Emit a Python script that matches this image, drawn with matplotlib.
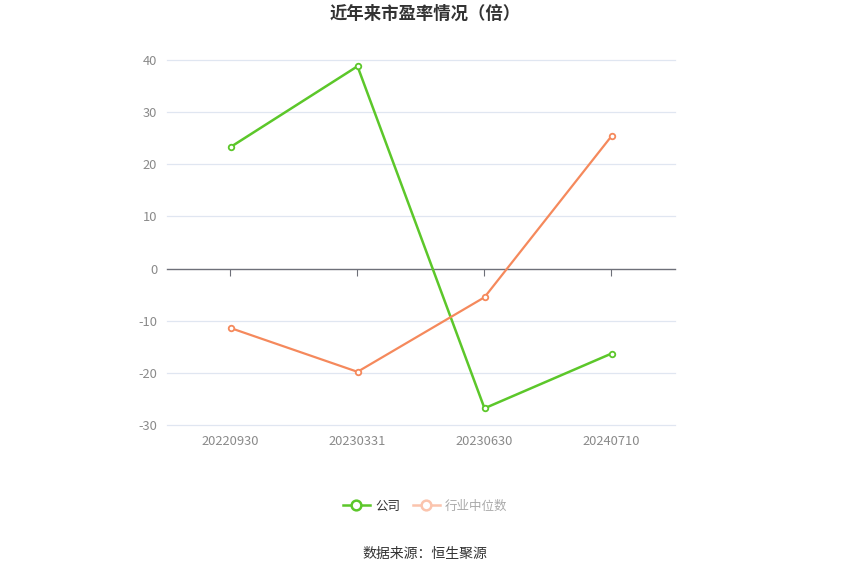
import matplotlib
matplotlib.use("Agg")
import matplotlib.pyplot as plt
from matplotlib.lines import Line2D

plt.rcParams["font.family"] = ["Noto Sans CJK SC", "DejaVu Sans"]

# Data
categories = ["20220930", "20230331", "20230630", "20240710"]
company_pe = [23.3, 38.8, -26.8, -16.3]
industry_pe = [-11.4, -19.8, -5.5, 25.4]
y_ticks = [-30, -20, -10, 0, 10, 20, 30, 40]

GREEN = "#5cc72a"
ORANGE = "#f5895c"
GRID = "#e0e6f1"
AXIS = "#6e7079"
LABEL = "#8a8a8a"

fig = plt.figure(figsize=(8.5, 5.75), dpi=100)
ax = fig.add_axes([167 / 850, 1 - 425 / 575, 508 / 850, 365 / 575])

x = range(len(categories))
ax.plot(x, company_pe, color=GREEN, lw=1.8, marker="o", ms=4,
        mfc="white", mec=GREEN, mew=1.3, zorder=3)
ax.plot(x, industry_pe, color=ORANGE, lw=1.6, marker="o", ms=4,
        mfc="white", mec=ORANGE, mew=1.3, zorder=3)

ax.set_xlim(-0.5, len(categories) - 0.5)
ax.set_ylim(y_ticks[0], y_ticks[-1])
ax.set_yticks(y_ticks)
ax.set_yticklabels([str(v) for v in y_ticks])
ax.set_xticks(list(x))
ax.set_xticklabels(categories)
ax.tick_params(axis="both", length=0, colors=LABEL, labelsize=9.3)
ax.tick_params(axis="x", pad=7)
ax.tick_params(axis="y", pad=7)

# horizontal grid lines (unclipped so the edge lines show fully)
for v in y_ticks:
    if v == 0:
        ax.axhline(v, color=AXIS, lw=1.0, zorder=2, clip_on=False)
    else:
        ax.axhline(v, color=GRID, lw=0.9, zorder=1, clip_on=False)
for side in ["top", "right", "left", "bottom"]:
    ax.spines[side].set_visible(False)

# category ticks hanging below the zero line
zero_frac = (0 - y_ticks[0]) / (y_ticks[-1] - y_ticks[0])
sec = ax.secondary_xaxis(zero_frac)
sec.set_xticks(list(x))
sec.set_xticklabels([])
sec.tick_params(axis="x", direction="out", length=5, color=AXIS, width=0.8)
for side in sec.spines:
    sec.spines[side].set_visible(False)

fig.text(0.5, 1 - 14 / 575, "近年来市盈率情况（倍）", ha="center", va="center",
         fontsize=12.5, fontweight="bold", color="#333333")

handles = [
    Line2D([], [], color=GREEN, lw=1.8, marker="o", ms=7, mfc="white",
           mec=GREEN, mew=1.8),
    Line2D([], [], color="#fbc4ad", lw=1.8, marker="o", ms=7, mfc="white",
           mec="#fbc4ad", mew=1.8),
]
leg = fig.legend(handles, ["公司", "行业中位数"], loc="center",
                 bbox_to_anchor=(0.5, 1 - 506 / 575), ncol=2, frameon=False,
                 fontsize=9, handlelength=2.2, handletextpad=0.4,
                 columnspacing=1.0)
leg.get_texts()[0].set_color("#333333")
leg.get_texts()[1].set_color("#aaaaaa")

fig.text(0.5, 1 - 554 / 575, "数据来源：恒生聚源", ha="center", va="center",
         fontsize=10, color="#333333")

fig.savefig("out.png", dpi=100)
